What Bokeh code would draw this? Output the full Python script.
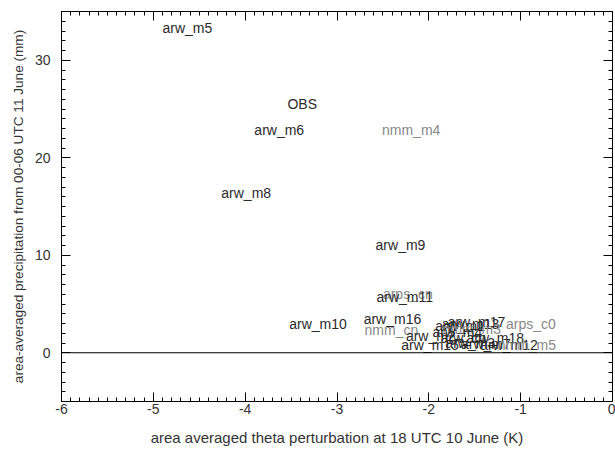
from bokeh.plotting import figure
from bokeh.models import LinearAxis, Range1d, ColumnDataSource, Span, FixedTicker
from bokeh.core.properties import value
from bokeh.embed import file_html
from bokeh.resources import INLINE

# ---- data (label anchor = left edge / baseline) ----
names = ["arw_m5", "OBS", "arw_m6", "nmm_m4", "arw_m8", "arw_m9",
         "arps_cn", "arw_m11", "arw_m10", "arw_m16", "nmm_cn", "arps_c0",
         "arw_m1", "arw_m13", "arw_m17", "nmm_m3", "arw_m4", "arw_m2",
         "arw_cn", "arw_m18", "arw_m15", "arw_m3", "arw_m7", "arw_m12", "nmm_m5"]
theta = [-4.90, -3.54, -3.90, -2.51, -4.26, -2.58,
         -2.50, -2.57, -3.52, -2.71, -2.70, -1.16,
         -1.93, -1.86, -1.795, -1.85, -1.96, -2.25,
         -1.87, -1.59, -2.30, -1.82, -1.65, -1.44, -1.25]
precip = [33.3, 25.5, 22.8, 22.8, 16.4, 11.1,
          6.0, 5.7, 3.0, 3.5, 2.3, 3.0,
          2.7, 3.0, 3.2, 2.4, 2.1, 1.7,
          1.5, 1.5, 0.8, 1.0, 0.9, 0.8, 0.8]
x_ticks = [-6, -5, -4, -3, -2, -1, 0]
y_ticks = [0, 10, 20, 30]

colors = ["#888888" if n.startswith(("nmm", "arps")) else "#2a2a2a" for n in names]
src = ColumnDataSource(dict(x=theta, y=precip, t=names, c=colors))

FONT = "Liberation Sans"

p = figure(width=615, height=453, output_backend="svg", toolbar_location=None,
           x_range=Range1d(-6, 0), y_range=Range1d(-5, 35),
           min_border_left=61, min_border_right=3, min_border_top=11,
           min_border_bottom=52, x_axis_location=None, y_axis_location=None)
p.grid.visible = False
p.outline_line_color = "black"
p.outline_line_width = 1
p.background_fill_color = "white"
p.border_fill_color = "white"

def style(ax, ticks, minor, labels=True):
    ax.ticker = FixedTicker(ticks=ticks, minor_ticks=minor)
    ax.major_label_overrides = {t: str(t) for t in ticks}
    ax.axis_line_color = "black"
    ax.major_tick_line_color = "black"
    ax.minor_tick_line_color = "black"
    ax.major_tick_in = 9
    ax.major_tick_out = 0
    ax.minor_tick_in = 4
    ax.minor_tick_out = 0
    ax.major_label_text_font = FONT
    ax.major_label_text_font_size = "14px"
    ax.major_label_text_color = "#333333"
    ax.axis_label_text_font = FONT
    ax.axis_label_text_font_style = "normal"
    ax.axis_label_text_color = "#333333"
    if not labels:
        ax.major_label_text_font_size = "0px"
        ax.major_label_text_alpha = 0

xminor = [round(-6 + i * 0.1, 2) for i in range(61)]
yminor = list(range(-5, 36))

for loc, lab in (("below", True), ("above", False)):
    ax = LinearAxis()
    style(ax, x_ticks, xminor, lab)
    if lab:
        ax.axis_label = "area averaged theta perturbation at 18 UTC 10 June (K)"
        ax.axis_label_text_font_size = "15px"
        ax.major_label_standoff = 2
        ax.axis_label_standoff = 12
    p.add_layout(ax, loc)

for loc, lab in (("left", True), ("right", False)):
    ax = LinearAxis()
    style(ax, y_ticks, yminor, lab)
    if lab:
        ax.axis_label = "area-averaged precipitation from 00-06 UTC 11 June (mm)"
        ax.axis_label_text_font_size = "13.6px"
        ax.major_label_standoff = 11
        ax.axis_label_standoff = 6
    p.add_layout(ax, loc)

p.add_layout(Span(location=0, dimension="width", line_color="black", line_width=1))

p.text(x="x", y="y", text="t", source=src, text_color="c",
       text_font=value(FONT), text_font_size="14px",
       text_align="left", text_baseline="alphabetic")

open("out.html", "w").write(file_html(p, INLINE))
